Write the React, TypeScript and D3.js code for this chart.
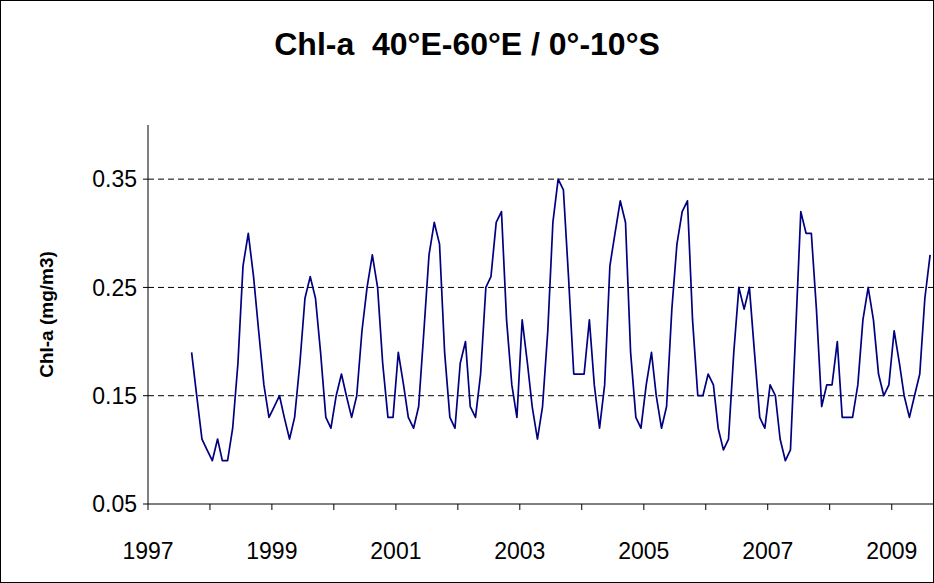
import React from "react";
import * as d3 from "d3";

const TITLE = "Chl-a  40°E-60°E / 0°-10°S";
const Y_TITLE = "Chl-a (mg/m3)";
const START_MONTH = new Date(1997, 8, 1); // Sep 1997
const END_MONTH = new Date(2009, 8, 1); // exclusive (Aug 2009 last)
const Y_TICKS = [0.05, 0.15, 0.25, 0.35];
const X_LABEL_YEARS = [1997, 1999, 2001, 2003, 2005, 2007, 2009];

const values1997 = [0.19, 0.15, 0.11, 0.10];
const values1998 = [0.09, 0.11, 0.09, 0.09, 0.12, 0.18, 0.27, 0.30, 0.26, 0.21, 0.16, 0.13];
const values1999 = [0.14, 0.15, 0.13, 0.11, 0.13, 0.18, 0.24, 0.26, 0.24, 0.19, 0.13, 0.12];
const values2000 = [0.15, 0.17, 0.15, 0.13, 0.15, 0.21, 0.25, 0.28, 0.25, 0.18, 0.13, 0.13];
const values2001 = [0.19, 0.16, 0.13, 0.12, 0.14, 0.21, 0.28, 0.31, 0.29, 0.19, 0.13, 0.12];
const values2002 = [0.18, 0.20, 0.14, 0.13, 0.17, 0.25, 0.26, 0.31, 0.32, 0.22, 0.16, 0.13];
const values2003 = [0.22, 0.18, 0.14, 0.11, 0.14, 0.21, 0.31, 0.35, 0.34, 0.26, 0.17, 0.17];
const values2004 = [0.17, 0.22, 0.16, 0.12, 0.16, 0.27, 0.30, 0.33, 0.31, 0.19, 0.13, 0.12];
const values2005 = [0.16, 0.19, 0.15, 0.12, 0.14, 0.23, 0.29, 0.32, 0.33, 0.22, 0.15, 0.15];
const values2006 = [0.17, 0.16, 0.12, 0.10, 0.11, 0.19, 0.25, 0.23, 0.25, 0.19, 0.13, 0.12];
const values2007 = [0.16, 0.15, 0.11, 0.09, 0.10, 0.21, 0.32, 0.30, 0.30, 0.23, 0.14, 0.16];
const values2008 = [0.16, 0.20, 0.13, 0.13, 0.13, 0.16, 0.22, 0.25, 0.22, 0.17, 0.15, 0.16];
const values2009 = [0.21, 0.18, 0.15, 0.13, 0.15, 0.17, 0.24, 0.28];

const chl = [
  ...values1997, ...values1998, ...values1999, ...values2000, ...values2001,
  ...values2002, ...values2003, ...values2004, ...values2005, ...values2006,
  ...values2007, ...values2008, ...values2009,
];

const W = 934;
const H = 583;
const FONT = "'Liberation Sans', Arial, sans-serif";

export default function App() {
  const months = d3.timeMonth.range(START_MONTH, END_MONTH);
  const data = months.map((m, i) => ({ date: d3.timeDay.offset(m, 14), v: chl[i] }));

  const x = d3
    .scaleTime()
    .domain([new Date(1997, 0, 1), new Date(2009, 8, 1)])
    .range([148, 933]);
  const y = d3.scaleLinear().domain([0.05, 0.4]).range([504, 125]);

  const line = d3
    .line<{ date: Date; v: number }>()
    .x((d) => x(d.date))
    .y((d) => y(d.v));

  const yearTicks = d3.timeYear.range(new Date(1997, 0, 1), new Date(2010, 0, 1));
  const [x0, x1] = x.range();
  const [yb, yt] = y.range();

  return (
    <svg
      width={W}
      height={H}
      style={{ position: "absolute", left: 0, top: 0, background: "#fff" }}
      fontFamily={FONT}
    >
      <rect x={0.5} y={0.5} width={W - 1} height={H - 1} fill="#fff" stroke="#000" strokeWidth={1} />
      <text x={467} y={55} textAnchor="middle" fontSize={32} fontWeight="bold" style={{ whiteSpace: "pre" }}>
        {TITLE}
      </text>
      {/* gridlines */}
      {Y_TICKS.filter((t) => t > 0.05).map((t) => (
        <line key={t} x1={x0} x2={x1} y1={y(t)} y2={y(t)} stroke="#000" strokeWidth={1} strokeDasharray="6,4" />
      ))}
      {/* y axis */}
      <line x1={x0} x2={x0} y1={yt} y2={yb} stroke="#000" strokeWidth={1} />
      {Y_TICKS.map((t) => (
        <g key={t}>
          <line x1={x0 - 5} x2={x0} y1={y(t)} y2={y(t)} stroke="#000" />
          <text x={x0 - 11} y={y(t)} dy="0.36em" textAnchor="end" fontSize={23}>
            {d3.format(".2f")(t)}
          </text>
        </g>
      ))}
      {/* x axis */}
      <line x1={x0} x2={x1} y1={yb} y2={yb} stroke="#000" strokeWidth={1} />
      {yearTicks.map((d) => (
        <line key={d.getTime()} x1={x(d)} x2={x(d)} y1={yb} y2={yb + 6} stroke="#000" />
      ))}
      {X_LABEL_YEARS.map((yr) => (
        <text key={yr} x={x(new Date(yr, 0, 1))} y={559} textAnchor="middle" fontSize={23}>
          {yr}
        </text>
      ))}
      <text
        transform={`translate(53,${(yt + yb) / 2}) rotate(-90)`}
        textAnchor="middle"
        fontSize={19}
        fontWeight="bold"
      >
        {Y_TITLE}
      </text>
      <path d={line(data) || ""} fill="none" stroke="#000080" strokeWidth={1.7} strokeLinejoin="round" />
    </svg>
  );
}
